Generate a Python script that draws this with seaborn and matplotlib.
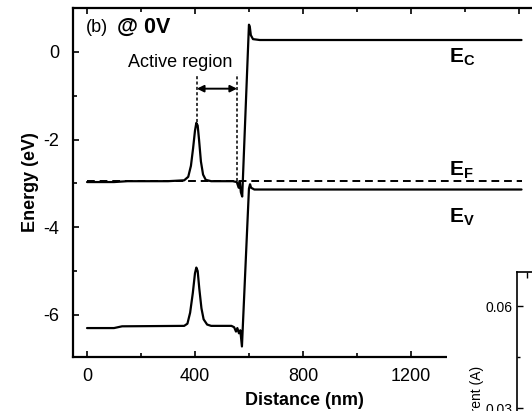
import numpy as np
import matplotlib
matplotlib.use("Agg")
import matplotlib.pyplot as plt
from matplotlib.patches import Rectangle
from matplotlib.ticker import MultipleLocator
import seaborn as sns

# band edges (distance in nm, energy in eV)
ec_x = [0, 100, 150, 300, 360, 375, 385, 393, 400, 405, 410, 415, 422, 430, 440, 460,
        540, 555, 562, 566, 570, 575, 600, 603, 607, 615, 640, 1000, 1610]
ec_y = [-2.97, -2.97, -2.95, -2.95, -2.93, -2.85, -2.6, -2.2, -1.8, -1.62, -1.68, -2.0,
        -2.5, -2.8, -2.92, -2.95, -2.95, -2.97, -3.1, -2.95, -3.2, -3.3, 0.62, 0.58,
        0.38, 0.29, 0.27, 0.27, 0.27]

ev_x = [0, 100, 130, 360, 372, 382, 392, 400, 405, 410, 416, 424, 432, 445, 460, 535,
        545, 552, 557, 563, 568, 574, 600, 604, 608, 620, 1610]
ev_y = [-6.3, -6.3, -6.26, -6.25, -6.2, -5.95, -5.5, -5.05, -4.92, -5.0, -5.4, -5.85,
        -6.1, -6.22, -6.25, -6.25, -6.28, -6.38, -6.3, -6.42, -6.35, -6.72, -3.12,
        -3.02, -3.1, -3.14, -3.14]

ef_x = [0, 1610]
ef_y = [-2.95, -2.95]

active_region = [407, 556]

sns.set_style("ticks")
plt.rcParams['font.family'] = ['Liberation Sans', 'DejaVu Sans']
plt.rcParams['mathtext.fontset'] = 'custom'
plt.rcParams['mathtext.bf'] = 'Liberation Sans:bold'
plt.rcParams['mathtext.rm'] = 'Liberation Sans'
plt.rcParams['axes.unicode_minus'] = False
plt.rcParams['text.color'] = 'k'
plt.rcParams['axes.labelcolor'] = 'k'

fig = plt.figure(figsize=(5.32, 4.11), dpi=100)
W, H = 532, 411
ax = fig.add_axes([73 / W, 1 - 357 / H, (535 - 73) / W, (357 - 8) / H])

sns.lineplot(x=ec_x, y=ec_y, ax=ax, color='k', lw=1.6, sort=False)
sns.lineplot(x=ev_x, y=ev_y, ax=ax, color='k', lw=1.6, sort=False)
sns.lineplot(x=ef_x, y=ef_y, ax=ax, color='k', lw=1.4, sort=False,
             linestyle=(0, (4, 2.5)))

# active region markers
ax.vlines(active_region[0], -1.6, -0.5, colors='k', lw=1.1, linestyles=(0, (2, 1.5)))
ax.vlines(active_region[1], -2.95, -0.5, colors='k', lw=1.1, linestyles=(0, (2, 1.5)))
ax.annotate('', xy=(active_region[1], -0.84), xytext=(active_region[0], -0.84),
            arrowprops=dict(arrowstyle='<|-|>', color='k', lw=1.4,
                            mutation_scale=10, shrinkA=0, shrinkB=0))
ax.text(344, -0.25, 'Active region', ha='center', va='center', fontsize=13)

ax.text(-5, 0.55, '(b)', ha='left', va='center', fontsize=13)
ax.text(111, 0.55, '@ 0V', ha='left', va='center', fontsize=15.5, fontweight='bold')

ax.text(1340, -0.25, r'$\mathbf{E}_\mathbf{C}$', fontsize=15, va='baseline')
ax.text(1340, -2.81, r'$\mathbf{E}_\mathbf{F}$', fontsize=15, va='baseline')
ax.text(1340, -3.9, r'$\mathbf{E}_\mathbf{V}$', fontsize=15, va='baseline')

ax.set_xlim(-52, 1660)
ax.set_ylim(-6.96, 1.0)
ax.xaxis.set_major_locator(MultipleLocator(400))
ax.xaxis.set_minor_locator(MultipleLocator(200))
ax.set_yticks([-6, -4, -2, 0])
ax.yaxis.set_minor_locator(MultipleLocator(1))
ax.tick_params(which='both', direction='in', top=True, right=False, width=1.2,
               labelsize=13, colors='k')
ax.tick_params(which='major', length=4.5)
ax.tick_params(which='minor', length=3)
ax.tick_params(axis='y', pad=10)
ax.tick_params(axis='x', pad=8)
for s in ax.spines.values():
    s.set_linewidth(1.6)
    s.set_color('k')
ax.set_xlabel('Distance (nm)', fontsize=13, fontweight='bold', labelpad=5)
ax.set_ylabel('Energy (eV)', fontsize=13, fontweight='bold', labelpad=3)

# white background of the neighbouring panel
fig.add_artist(Rectangle((447 / W, 0), (W - 447) / W, 1 - 260 / H,
                         transform=fig.transFigure, facecolor='white',
                         edgecolor='none', zorder=2))

# neighbouring panel (current plot), only its corner is in view
inset_ylim = (0, 0.07)
inset_yticks = [0.03, 0.06]
ax2 = fig.add_axes([517 / W, 1 - 510 / H, 300 / W, (510 - 272) / H], zorder=3)
ax2.set_ylim(*inset_ylim)
ax2.set_xlim(-1, 29)
ax2.set_yticks(inset_yticks)
ax2.set_yticklabels(['0.03', '0.06'])
ax2.yaxis.set_minor_locator(MultipleLocator(0.015))
ax2.set_xticks([0])
ax2.set_xticklabels([])
ax2.tick_params(which='both', direction='in', top=True, labelsize=10, width=1.0,
                colors='k')
ax2.tick_params(which='major', length=4)
ax2.tick_params(which='minor', length=2.5)
ax2.tick_params(axis='y', pad=3)
for s in ax2.spines.values():
    s.set_linewidth(1.2)
    s.set_color('k')
ax2.set_ylabel('Current (A)', fontsize=10, labelpad=4)
ax2.yaxis.set_label_coords(-0.11, (411 - 400) / (510 - 272) + (510 - 411) / (510 - 272))

fig.savefig('out.png', dpi=100)
